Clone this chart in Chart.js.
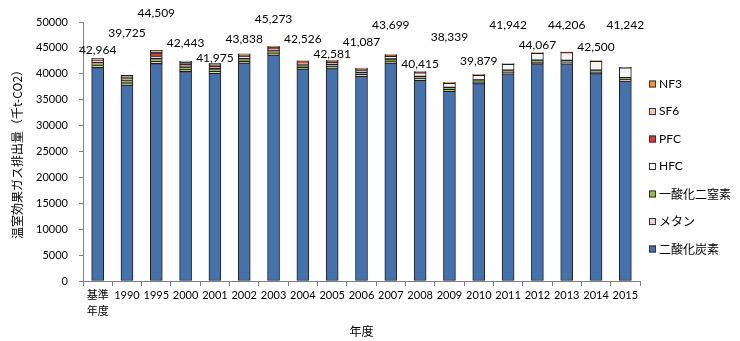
<!DOCTYPE html>
<html lang="ja">
<head>
<meta charset="utf-8">
<title>温室効果ガス排出量の推移</title>
<script src="https://cdn.jsdelivr.net/npm/chart.js@4/dist/chart.umd.min.js"></script>
<style>
  html, body { margin: 0; padding: 0; background: #fff; }
  #grafico { display: block; }
</style>
</head>
<body>
<canvas id="grafico" width="740" height="341"></canvas>
<script>
// Categorias do eixo X (o ano-base tem rótulo em duas linhas)
const anos = [['基準', '年度'], '1990', '1995', '2000', '2001', '2002', '2003', '2004', '2005',
  '2006', '2007', '2008', '2009', '2010', '2011', '2012', '2013', '2014', '2015'];

// Emissões por gás (千t-CO2)
const co2 =    [41200, 37810, 41979, 40418, 40090, 42073, 43628, 40921, 41006, 39512, 42084, 38735, 36639, 38089, 40002, 41947, 41916, 40030, 38592];
const metano = [400, 400, 380, 350, 340, 330, 320, 310, 300, 300, 290, 290, 280, 280, 270, 270, 260, 260, 250];
const n2o =    [600, 600, 580, 550, 540, 530, 520, 510, 500, 490, 480, 470, 460, 450, 440, 430, 420, 410, 400];
const hfc =    [300, 300, 400, 400, 380, 350, 330, 330, 350, 400, 500, 700, 800, 900, 1100, 1300, 1500, 1700, 1900];
const pfc =    [150, 250, 700, 450, 400, 350, 300, 300, 280, 250, 220, 120, 80, 80, 60, 50, 50, 40, 40];
const sf6 =    [300, 350, 450, 250, 200, 180, 150, 130, 120, 110, 100, 80, 60, 60, 50, 50, 40, 40, 40];
const nf3 =    [14, 15, 20, 25, 25, 25, 25, 25, 25, 25, 25, 20, 20, 20, 20, 20, 20, 20, 20];

// Totais escritos acima das barras
const totais = [42964, 39725, 44509, 42443, 41975, 43838, 45273, 42526, 42581, 41087,
  43699, 40415, 38339, 39879, 41942, 44067, 44206, 42500, 41242];

// Marcas do eixo Y
const marcasY = [0, 5000, 10000, 15000, 20000, 25000, 30000, 35000, 40000, 45000, 50000];

// Distância (px) entre o topo da barra e o centro do rótulo do total
const elevacao = [8, 42, 37, 18, 5, 15, 27, 22, 6, 26, 30, 8, 45, 13, 39, 8, 27, 14, 42];

const fonteLatina = 'Lato, "Noto Sans CJK JP", sans-serif';
const fonteJp = '"Noto Sans CJK JP", Lato, sans-serif';

// Rótulo do total acima de cada barra empilhada
const rotulosTotais = {
  id: 'rotulosTotais',
  afterDatasetsDraw(chart) {
    const ctx = chart.ctx;
    const topo = chart.getDatasetMeta(chart.data.datasets.length - 1);
    ctx.save();
    ctx.font = '12px ' + fonteLatina;
    ctx.fillStyle = '#000';
    ctx.textAlign = 'center';
    ctx.textBaseline = 'middle';
    topo.data.forEach((barra, i) => {
      ctx.fillText(totais[i].toLocaleString('en-US'), barra.x, barra.y - elevacao[i]);
    });
    ctx.restore();
  }
};

// Legenda à direita, em ordem inversa ao empilhamento
const legendaLateral = {
  id: 'legendaLateral',
  afterDraw(chart) {
    const ctx = chart.ctx;
    const area = chart.chartArea;
    const series = chart.data.datasets.slice().reverse();
    ctx.save();
    ctx.textAlign = 'left';
    ctx.textBaseline = 'middle';
    series.forEach((ds, k) => {
      const y = 84 + k * 27.5;
      const x = area.right + 9;
      ctx.fillStyle = ds.backgroundColor;
      ctx.fillRect(x, y - 3.5, 7, 7);
      ctx.strokeStyle = '#333';
      ctx.lineWidth = 1;
      ctx.strokeRect(x + 0.5, y - 3, 6, 6);
      ctx.fillStyle = '#000';
      ctx.font = '12px ' + (/^[A-Z0-9]+$/.test(ds.label) ? fonteLatina : fonteJp);
      ctx.fillText(ds.label, x + 10, y);
    });
    ctx.restore();
  }
};

function serie(label, data, cor) {
  return {
    label: label,
    data: data,
    backgroundColor: cor,
    borderColor: '#1e1e1e',
    borderWidth: 1,
    borderSkipped: false,
    barThickness: 12
  };
}

const ctx = document.getElementById('grafico').getContext('2d');

new Chart(ctx, {
  type: 'bar',
  data: {
    labels: anos,
    datasets: [
      serie('二酸化炭素', co2, '#4672ab'),
      serie('メタン', metano, '#ead3d3'),
      serie('一酸化二窒素', n2o, '#9bbb59'),
      serie('HFC', hfc, '#f4f4f6'),
      serie('PFC', pfc, '#d63a3a'),
      serie('SF6', sf6, '#f5c9a5'),
      serie('NF3', nf3, '#f7923a')
    ]
  },
  options: {
    responsive: false,
    animation: false,
    devicePixelRatio: 1,
    layout: { padding: { top: 22, right: 100, bottom: 0, left: 0 } },
    plugins: {
      legend: { display: false },
      tooltip: { enabled: false }
    },
    scales: {
      x: {
        stacked: true,
        afterFit: (escala) => { escala.height = 60; },
        grid: {
          offset: true,
          drawOnChartArea: false,
          drawTicks: true,
          tickLength: 5,
          color: '#7f7f7f'
        },
        border: { color: '#7f7f7f', width: 1 },
        ticks: {
          maxRotation: 0,
          autoSkip: false,
          padding: 2,
          color: '#000',
          font: { family: fonteLatina, size: 11, lineHeight: 1.4 }
        },
        title: {
          display: true,
          text: '年度',
          color: '#000',
          font: { family: fonteJp, size: 12 },
          padding: { top: 0, bottom: 2 }
        }
      },
      y: {
        stacked: true,
        min: 0,
        max: 50000,
        afterFit: (escala) => { escala.width = 83; },
        afterBuildTicks: (escala) => { escala.ticks = marcasY.map(v => ({ value: v })); },
        grid: {
          drawOnChartArea: false,
          drawTicks: true,
          tickLength: 4,
          color: '#7f7f7f'
        },
        border: { color: '#7f7f7f', width: 1 },
        ticks: {
          padding: 11,
          color: '#000',
          font: { family: fonteLatina, size: 11 },
          callback: (v) => String(v)
        },
        title: {
          display: true,
          text: '温室効果ガス排出量（千t-CO2）',
          color: '#000',
          font: { family: fonteJp, size: 12 },
          padding: { top: 10, bottom: 0 }
        }
      }
    }
  },
  plugins: [rotulosTotais, legendaLateral]
});
</script>
</body>
</html>
